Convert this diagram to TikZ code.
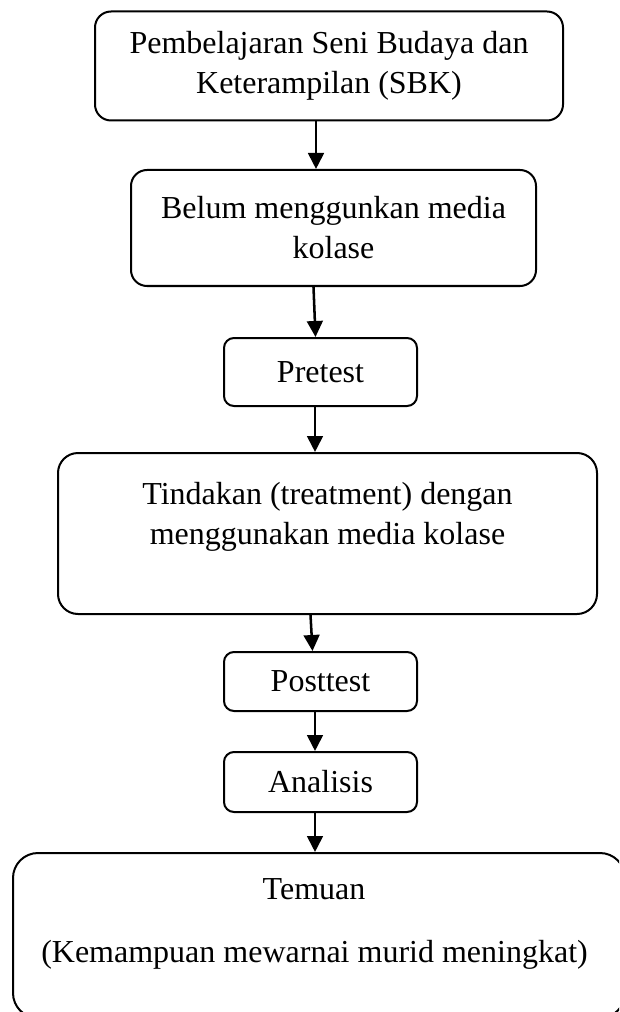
\documentclass[tikz,border=0pt]{standalone}
\usepackage{fontspec}
\setmainfont{Liberation Serif}
\usetikzlibrary{arrows.meta}
\begin{document}
\begin{tikzpicture}[x=0.375pt,y=-0.375pt,
  box/.style n args={3}{draw, line width=0.75pt, rounded corners=#3*0.375pt,
     minimum width=#1*0.375pt, minimum height=#2*0.375pt, inner sep=0pt,
     align=center, font=\fontsize{12pt}{15pt}\selectfont},
  txt/.style={inner sep=0pt, align=center, font=\fontsize{12pt}{15pt}\selectfont},
  arr/.style={line width=0.95pt, -{Triangle[length=6pt,width=5.9pt]}}]
\useasboundingbox (0,0) rectangle (619,1012);
\clip (0,0) rectangle (619,1012);
\node[box={468}{109}{16}] (b1) at (329,66) {Pembelajaran Seni Budaya dan\\Keterampilan (SBK)};
\node[box={405}{116}{16}] (b2) at (333.5,228) {Belum menggunkan media\\kolase};
\node[box={193}{68}{10}] (b3) at (320.5,372) {Pretest};
\node[box={539}{161}{20}] (b4) at (327.5,533.5) {Tindakan (treatment) dengan\\menggunakan media kolase\\[0pt]\mbox{}};
\node[box={193}{59}{10}] (b5) at (320.5,681.5) {Posttest};
\node[box={193}{60}{10}] (b6) at (320.5,782) {Analisis};
\node[box={612}{165}{25}] (b7) at (319,935.5) {};
\node[txt] (t1) at (314,889) {Temuan};
\node[txt] (t2) at (314.5,955) {(Kemampuan mewarnai murid meningkat)};
\coordinate (x1) at (316,0);
\coordinate (x2a) at (313.5,0);
\coordinate (x2b) at (315.5,0);
\coordinate (x3) at (315,0);
\coordinate (x4a) at (310.5,0);
\coordinate (x4b) at (312.5,0);
\coordinate (x5) at (315,0);
\coordinate (x6) at (315,0);
\draw[arr] (b1.south -| x1) -- (b2.north -| x1);
\draw[arr] (b2.south -| x2a) -- (b3.north -| x2b);
\draw[arr] (b3.south -| x3) -- (b4.north -| x3);
\draw[arr] (b4.south -| x4a) -- (b5.north -| x4b);
\draw[arr] (b5.south -| x5) -- (b6.north -| x5);
\draw[arr] (b6.south -| x6) -- (b7.north -| x6);
\end{tikzpicture}
\end{document}
